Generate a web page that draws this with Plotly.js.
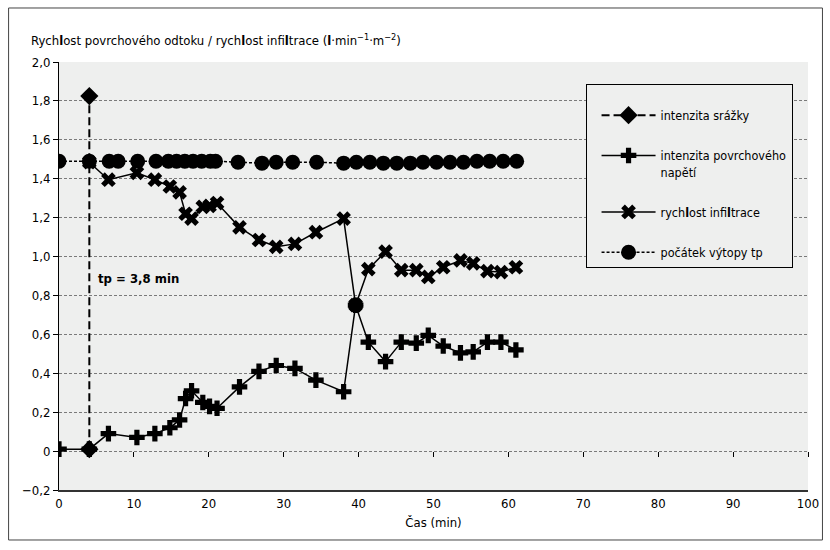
<!DOCTYPE html>
<html>
<head>
<meta charset="utf-8">
<script src="https://cdn.plot.ly/plotly-3.0.1.min.js"></script>
<style>html,body{margin:0;padding:0;background:#fff;}#chart{width:830px;height:550px;}</style>
</head>
<body>
<div id="chart"></div>
<script>
// ---- data ----
var rainT = [4.05, 4.05];
var rainV = [0.01, 1.825];

var surfT = [0, 4.05, 6.6, 10.4, 12.8, 14.8, 16.1, 16.9, 17.7, 19.2, 20.1, 21.1, 24.1, 26.7, 29.0, 31.5, 34.3, 38.0, 39.6, 41.3, 43.6, 45.7, 47.7, 49.3, 51.3, 53.6, 55.3, 57.2, 59.0, 61.0];
var surfV = [0.01, 0.01, 0.09, 0.07, 0.09, 0.12, 0.16, 0.27, 0.31, 0.25, 0.23, 0.22, 0.33, 0.41, 0.44, 0.425, 0.365, 0.305, 0.75, 0.56, 0.46, 0.56, 0.555, 0.595, 0.54, 0.505, 0.51, 0.56, 0.56, 0.52];

var infT = [4.05, 6.6, 10.4, 12.8, 14.8, 16.1, 16.9, 17.7, 19.2, 20.1, 21.1, 24.1, 26.7, 29.0, 31.5, 34.3, 38.0, 39.6, 41.3, 43.6, 45.7, 47.7, 49.3, 51.3, 53.6, 55.3, 57.2, 59.0, 61.0];
var infV = [1.485, 1.395, 1.43, 1.395, 1.36, 1.33, 1.22, 1.195, 1.255, 1.26, 1.275, 1.15, 1.085, 1.05, 1.065, 1.125, 1.195, 0.75, 0.935, 1.025, 0.93, 0.93, 0.895, 0.945, 0.98, 0.965, 0.925, 0.92, 0.945];

var pondT = [0, 4.05, 6.7, 7.9, 10.5, 12.95, 14.6, 15.7, 16.8, 17.9, 19.05, 20.2, 20.9, 23.9, 27.1, 29.0, 31.2, 34.4, 38.0, 39.7, 41.5, 43.3, 45.1, 46.9, 48.6, 50.4, 52.2, 54.0, 55.8, 57.5, 59.3, 61.1];
var pondV = [1.49, 1.49, 1.49, 1.49, 1.49, 1.49, 1.49, 1.49, 1.49, 1.49, 1.49, 1.49, 1.49, 1.485, 1.48, 1.485, 1.485, 1.485, 1.48, 1.485, 1.485, 1.48, 1.48, 1.48, 1.485, 1.485, 1.485, 1.485, 1.49, 1.49, 1.49, 1.49];

var crossT = [39.6];
var crossV = [0.75];

var yTickVals = [-0.2, 0, 0.2, 0.4, 0.6, 0.8, 1.0, 1.2, 1.4, 1.6, 1.8, 2.0];
var yTickText = ["\u22120,2", "0", "0,2", "0,4", "0,6", "0,8", "1,0", "1,2", "1,4", "1,6", "1,8", "2,0"];
var xTickVals = [0, 10, 20, 30, 40, 50, 60, 70, 80, 90, 100];

var names = ["intenzita srážky", "intenzita povrchového<br>napětí", "rych<b>l</b>ost infi<b>l</b>trace", "počátek výtopy tp"];

var FONT = "'DejaVu Sans Condensed', 'Liberation Sans Narrow', sans-serif";

var traces = [
  {x: surfT, y: surfV, name: names[1], legendgroup: "b", legendrank: 2, mode: "lines+markers",
   line: {color: "#000", width: 1.5},
   marker: {symbol: "cross", size: 13, color: "#000"}},
  {x: infT, y: infV, name: names[2], legendgroup: "c", legendrank: 3, mode: "lines+markers",
   line: {color: "#000", width: 1.5},
   marker: {symbol: "x", size: 13, color: "#000"}},
  {x: pondT, y: pondV, name: names[3], legendgroup: "d", legendrank: 4, mode: "lines+markers",
   line: {color: "#000", width: 1.5, dash: "3px,2px"},
   marker: {symbol: "circle", size: 15, color: "#000"}},
  {x: crossT, y: crossV, name: "cross", showlegend: false, mode: "markers",
   marker: {symbol: "circle", size: 15, color: "#000"}},
  {x: rainT, y: rainV, name: names[0], legendgroup: "a", legendrank: 1, mode: "lines+markers", xaxis: "x2",
   line: {color: "#000", width: 2, dash: "8px,4px"},
   marker: {symbol: "diamond", size: 14, color: "#000"}}
];

var layout = {
  width: 830, height: 550,
  margin: {l: 58.5, r: 21.5, t: 62, b: 60},
  paper_bgcolor: "#ffffff",
  plot_bgcolor: "#eeefee",
  font: {family: FONT, size: 13, color: "#000"},
  showlegend: true,
  legend: {
    x: 0.703, y: 0.9486, xanchor: "left", yanchor: "top",
    bgcolor: "#eeefee", bordercolor: "#000", borderwidth: 1,
    font: {family: FONT, size: 12.5, color: "#000"},
    title: {text: "&nbsp;", font: {family: FONT, size: 12}},
    traceorder: "grouped", tracegroupgap: 21, valign: "top",
    itemwidth: 54, indentation: 10
  },
  xaxis: {
    range: [0, 100], tickvals: xTickVals, ticktext: xTickVals.map(String),
    showgrid: false, zeroline: false,
    showline: true, linecolor: "#333", linewidth: 2,
    ticks: "", tickfont: {family: FONT, size: 13},
    title: {text: "Čas (min)", font: {family: FONT, size: 13}, standoff: 8}
  },
  xaxis2: {
    matches: "x", overlaying: "x", anchor: "free", position: 0.2 / 2.2,
    range: [0, 100], tickvals: xTickVals, showticklabels: false,
    ticks: "outside", ticklen: 5, tickcolor: "#000", tickwidth: 1,
    showgrid: false, zeroline: false, showline: false
  },
  yaxis: {
    range: [-0.2, 2.0], tickvals: yTickVals, ticktext: yTickText,
    showgrid: true, gridcolor: "#7a7a7a", griddash: "3px,2px", gridwidth: 1,
    zeroline: false, showline: true, linecolor: "#000", linewidth: 1,
    ticks: "outside", ticklen: 5, tickcolor: "#000",
    tickfont: {family: FONT, size: 13}
  },
  annotations: [
    {xref: "paper", yref: "paper", x: -0.0407, y: 1.0514, xanchor: "left", yanchor: "middle",
     showarrow: false, font: {family: FONT, size: 13},
     text: "Rych<b>l</b>ost povrchového odtoku / rych<b>l</b>ost infi<b>l</b>trace (<b>l</b>·min<sup>−1</sup>·m<sup>−2</sup>)"},
    {xref: "x", yref: "y", x: 5.0, y: 0.888, xanchor: "left", yanchor: "middle",
     showarrow: false, font: {family: FONT, size: 13},
     text: "<b>tp = 3,8 min</b>"}
  ],
  shapes: [
    {type: "rect", xref: "paper", yref: "paper", x0: -0.0673, x1: 1.0193, y0: -0.1168, y1: 1.1262,
     line: {color: "#444", width: 1}, fillcolor: "rgba(0,0,0,0)", layer: "below"}
  ]
};

Plotly.newPlot("chart", traces, layout, {displayModeBar: false, staticPlot: true});
</script>
</body>
</html>
